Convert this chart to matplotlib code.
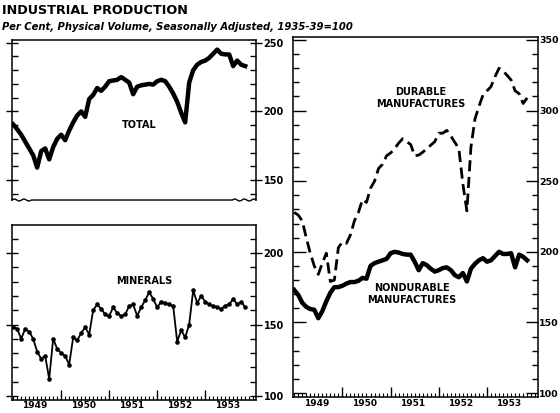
import matplotlib
matplotlib.use('Agg')
import matplotlib.pyplot as plt
import numpy as np
from matplotlib.ticker import MultipleLocator
import matplotlib.transforms as mtrans

# months since Jan 1949
months = np.arange(59)
years = ['1949', '1950', '1951', '1952', '1953']

total = [190.5, 187, 183, 178, 173, 168, 159, 171, 173, 165, 174, 180,
         183, 179, 186, 192, 197, 200, 196, 209, 212, 217, 215, 218,
         222, 222.5, 223, 225, 223, 221, 212.5, 218, 219, 219.5, 220, 219.5,
         222, 223, 222, 218, 213, 207, 199, 192, 221, 230, 234, 236,
         237, 239, 242, 245, 242, 241.5, 241.5, 233, 237, 234, 233]

minerals = [148, 147, 140, 147, 145, 140, 131, 126, 128, 112, 140, 133,
            130, 128, 122, 141, 139, 144, 148, 143, 160, 164, 161, 157,
            156, 162, 158, 156, 157, 163, 164, 156, 162, 167, 172.5, 168,
            162, 166, 165, 164, 163, 138, 146, 141, 150, 174, 165, 170,
            166, 164, 163, 162, 161, 163, 164, 168, 164, 166, 162]

durable = [228, 226, 222, 210, 199, 190, 184, 192, 199, 179, 180, 203,
           207, 206, 212, 222, 228, 237, 235, 245, 250, 259, 262, 268,
           270, 273, 277, 280, 278, 276, 268, 268.5, 270.5, 273, 275.5, 278,
           284, 284, 286, 282, 277.5, 273, 248, 229, 274, 294, 303, 311,
           314, 317, 324, 330, 328, 325, 321.7, 314, 312, 305, 309]

nondurable = [173, 169.5, 164, 161, 159.5, 159, 153, 158, 165, 171, 175, 175,
              176, 177.5, 178.6, 178.6, 179.5, 181.5, 181, 190, 192, 193, 194, 195,
              199, 200, 199.5, 198.5, 198, 198, 193, 187, 192, 190.6, 188, 186,
              187, 188.5, 189, 187, 183.5, 182, 185, 179, 188, 191.5, 194, 195.5,
              193, 194, 197, 200, 198.5, 198.5, 199, 189, 198, 196.5, 194]

FONT = 'DejaVu Sans'
fig = plt.figure(figsize=(5.6, 4.13), dpi=100)

ax1 = fig.add_axes([0.0214, 0.5157, 0.4357, 0.3874])
ax2 = fig.add_axes([0.0214, 0.0315, 0.4357, 0.4237])
ax3 = fig.add_axes([0.5232, 0.0387, 0.4375, 0.8717])

XL = (-0.3, 60.7)

def style(ax, ylim, majors, direction='inout', pad=1, size=7):
    ax.set_xlim(*XL)
    ax.set_ylim(*ylim)
    for s in ax.spines.values():
        s.set_linewidth(1.1)
    ax.yaxis.set_minor_locator(MultipleLocator(10))
    ax.set_yticks(majors)
    ax.tick_params(axis='y', which='both', left=True, right=True,
                   labelleft=False, labelright=True, width=1.0)
    ax.tick_params(axis='y', which='major', direction=direction, length=9,
                   pad=pad, labelsize=size)
    ax.tick_params(axis='y', which='minor', direction='in', length=4)
    for lab in ax.get_yticklabels():
        lab.set_fontweight('bold')
        lab.set_fontfamily(FONT)

def xaxis_months(ax):
    ax.xaxis.set_minor_locator(MultipleLocator(1))
    ax.set_xticks([12, 24, 36, 48])
    ax.tick_params(axis='x', which='major', direction='in', length=7,
                   width=1.0, labelbottom=False, top=False)
    ax.tick_params(axis='x', which='minor', direction='in', length=3,
                   width=0.8, top=False)
    trans = mtrans.blended_transform_factory(ax.transData, ax.transAxes)
    for i, y in enumerate(years):
        ax.text(5.5 + 12 * i, -0.006, y, transform=trans, ha='center',
                va='top', fontsize=6.5, fontweight='bold', family=FONT)

# --- Total
style(ax1, (135.4, 252), [150, 200, 250])
ax1.set_xticks([])
ax1.spines['bottom'].set_visible(False)
xs = np.linspace(0, 1, 400)
wave = np.where((xs < 0.08) | (xs > 0.9), 0.006 * np.sin(xs * 160), 0.0)
ax1.plot(xs, wave, transform=ax1.transAxes, color='black', lw=1.0,
         clip_on=False)
ax1.plot(months, total, color='black', lw=3.2, solid_joinstyle='round')
ax1.text(31.6, 190, 'TOTAL', ha='center', va='center', fontsize=7,
         fontweight='bold', family=FONT)

# --- Minerals
style(ax2, (97.2, 219.6), [100, 150, 200])
xaxis_months(ax2)
ax2.plot(months, minerals, color='black', lw=1.3, marker='o',
         markersize=2.3)
ax2.text(32.75, 180.5, 'MINERALS', ha='center', va='center', fontsize=7,
         fontweight='bold', family=FONT)

# --- Durable / nondurable
style(ax3, (97.2, 352.1), [100, 150, 200, 250, 300, 350],
      direction='in', pad=1, size=6.8)
xaxis_months(ax3)
ax3.plot(months, durable, color='black', lw=2.0, linestyle=(0, (4, 2)))
ax3.plot(months, nondurable, color='black', lw=3.2)
ax3.text(31.5, 309, 'DURABLE\nMANUFACTURES', ha='center', va='center',
         fontsize=7, fontweight='bold', family=FONT, linespacing=1.2)
ax3.text(29.25, 170, 'NONDURABLE\nMANUFACTURES', ha='center', va='center',
         fontsize=7, fontweight='bold', family=FONT, linespacing=1.2)

fig.text(0.004, 0.975, 'INDUSTRIAL PRODUCTION', ha='left', va='center',
         fontsize=9.2, fontweight='heavy', family=FONT)
fig.text(0.004, 0.934, 'Per Cent, Physical Volume, Seasonally Adjusted, 1935-39=100',
         ha='left', va='center', fontsize=7.2, fontweight='bold',
         style='italic', family=FONT)

fig.savefig('out.png', dpi=100)
